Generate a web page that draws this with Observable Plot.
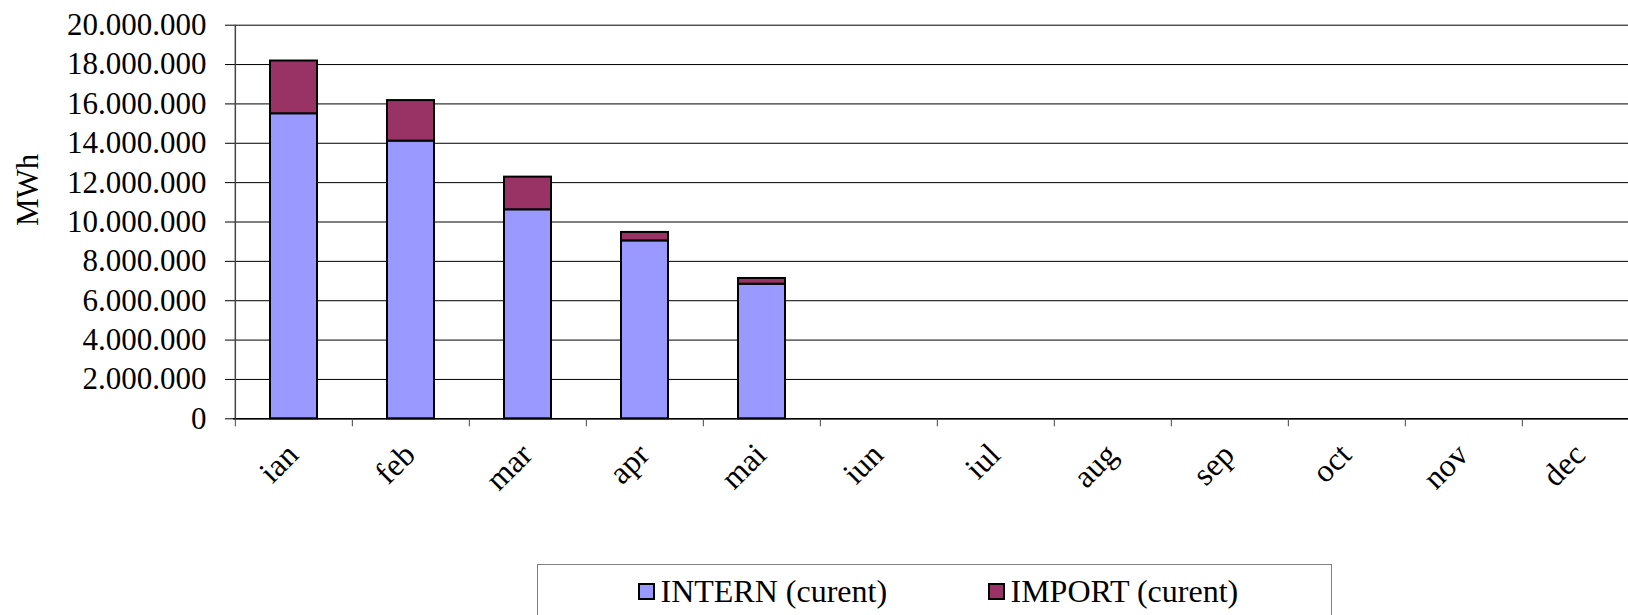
<!DOCTYPE html>
<html><head><meta charset="utf-8">
<script src="https://cdn.jsdelivr.net/npm/d3@7"></script>
<script src="https://cdn.jsdelivr.net/npm/@observablehq/plot@0.6"></script>
<style>
body{margin:0;background:#fff;font-family:"Liberation Serif","Times New Roman",serif;}
#wrap{position:relative;width:1628px;height:615px;overflow:hidden;background:#fff;}
#legend{position:absolute;left:537px;top:564px;width:795px;height:80px;border:1.5px solid #808080;box-sizing:border-box;}
.item{position:absolute;top:10px;display:flex;align-items:center;font-family:"Liberation Serif","Times New Roman",serif;font-size:32px;line-height:1;white-space:nowrap;color:#000;}
.sw{width:13px;height:13px;border:2px solid #000;margin-right:6px;}
</style></head><body>
<div id="wrap"><div id="chart"></div><div id="legend"></div></div>
<script>
const months = ["ian","feb","mar","apr","mai","iun","iul","aug","sep","oct","nov","dec"];
const seriesNames = ["INTERN (curent)", "IMPORT (curent)"];
const seriesColors = ["#9999FF", "#993366"];
const internValues = [15500000, 14110000, 10620000, 9040000, 6840000, null, null, null, null, null, null, null];
const importValues = [2680000, 2060000, 1660000, 430000, 290000, null, null, null, null, null, null, null];
const yTicks = [0, 2000000, 4000000, 6000000, 8000000, 10000000, 12000000, 14000000, 16000000, 18000000, 20000000];

const data = months.flatMap((m, i) => [
  {month: m, series: seriesNames[0], value: internValues[i]},
  {month: m, series: seriesNames[1], value: importValues[i]}
]).filter(d => d.value != null);

const fmt = d3.formatLocale({thousands: ".", decimal: ",", grouping: [3], currency: ["", ""]}).format(",");
const step = (1641 - 233) / months.length;
const serif = "'Liberation Serif', 'Times New Roman', serif";

const chart = Plot.plot({
  width: 1628, height: 564,
  marginLeft: 233, marginRight: 0, marginTop: 24.7, marginBottom: 145.7,
  x: {domain: months, range: [233, 1641], paddingInner: 0.6, paddingOuter: 0.3, align: 0.5, label: null},
  y: {domain: [0, 20000000], label: null},
  color: {domain: seriesNames, range: seriesColors},
  style: {fontFamily: serif, fontSize: "31px", color: "#000", background: "#fff", overflow: "hidden"},
  marks: [
    Plot.gridY(yTicks, {stroke: "#000", strokeOpacity: 1, strokeWidth: 1}),
    Plot.axisY({ticks: yTicks, tickSize: 8, tickPadding: 19, tickFormat: fmt, label: null, fontSize: 31, fontFamily: serif, stroke: "#000", strokeOpacity: 1}),
    Plot.barY(data, {x: "month", y: "value", fill: "series", stroke: "#000", strokeWidth: 2, order: seriesNames}),
    Plot.ruleY([0], {stroke: "#000", strokeWidth: 1.5}),
    Plot.ruleX([months[0]], {x: d => d, y1: 0, y2: 20000000, dx: -step / 2, stroke: "#444", strokeWidth: 1.5}),
    Plot.axisX({tickSize: 8, tickFormat: () => "", label: null, dx: -step / 2, stroke: "#444", strokeOpacity: 1}),
    Plot.text(months, {x: d => d, frameAnchor: "bottom", rotate: -45, textAnchor: "end", dx: 6, dy: 38, fontSize: 32, fontFamily: serif, fill: "#000"}),
    Plot.text(["MWh"], {frameAnchor: "left", rotate: -90, dx: -205, dy: 4, fontSize: 31, fontFamily: serif, fill: "#000"})
  ]
});
document.getElementById("chart").appendChild(chart);

const legend = document.getElementById("legend");
const itemLeft = [99.5, 449.5];
seriesNames.forEach((name, i) => {
  const it = document.createElement("div");
  it.className = "item";
  it.style.left = itemLeft[i] + "px";
  const sw = document.createElement("div");
  sw.className = "sw";
  sw.style.background = seriesColors[i];
  const tx = document.createElement("span");
  tx.textContent = name;
  it.appendChild(sw); it.appendChild(tx);
  legend.appendChild(it);
});
</script>
</body></html>
